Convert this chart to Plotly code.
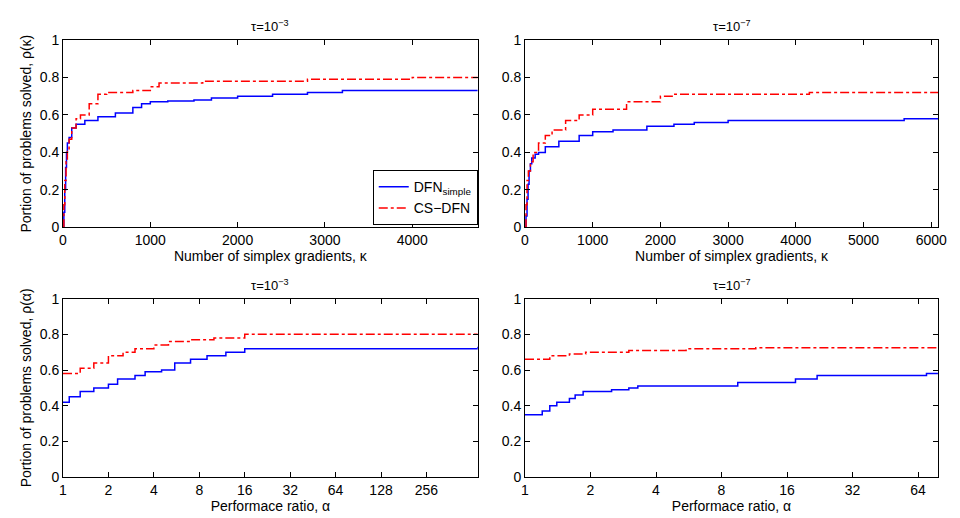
import plotly.graph_objects as go
from plotly.subplots import make_subplots

# top-left: tau=1e-3, simplex gradients
tl_dfn_x = [0, 10, 20, 30, 40, 50, 70, 100, 150, 250, 400, 600, 800, 900, 1000, 1200, 1500, 1700, 2000, 2400, 2800, 3200, 4750]
tl_dfn_y = [0, 0.08, 0.2, 0.32, 0.4, 0.45, 0.48, 0.53, 0.55, 0.57, 0.59, 0.61, 0.64, 0.66, 0.67, 0.675, 0.68, 0.69, 0.7, 0.71, 0.72, 0.73, 0.73]
tl_cs_x = [0, 10, 20, 35, 50, 70, 100, 150, 200, 300, 400, 500, 800, 1000, 1100, 1600, 2000, 2800, 4000, 4750]
tl_cs_y = [0, 0.12, 0.25, 0.35, 0.42, 0.47, 0.53, 0.58, 0.6, 0.66, 0.71, 0.72, 0.73, 0.75, 0.77, 0.78, 0.78, 0.79, 0.8, 0.8]

# top-right: tau=1e-7, simplex gradients
tr_dfn_x = [0, 15, 30, 45, 60, 80, 100, 150, 200, 300, 500, 800, 1000, 1300, 1800, 2200, 2500, 3000, 5500, 5600, 6100]
tr_dfn_y = [0, 0.06, 0.15, 0.23, 0.3, 0.34, 0.37, 0.39, 0.4, 0.43, 0.46, 0.49, 0.51, 0.52, 0.54, 0.55, 0.56, 0.57, 0.57, 0.58, 0.58]
tr_cs_x = [0, 15, 30, 50, 80, 120, 200, 300, 400, 600, 800, 1000, 1500, 2000, 2200, 4200, 6100]
tr_cs_y = [0, 0.12, 0.25, 0.3, 0.35, 0.4, 0.45, 0.49, 0.52, 0.57, 0.6, 0.63, 0.67, 0.7, 0.71, 0.72, 0.72]

# bottom-left: tau=1e-3, performance ratio
bl_dfn_x = [1, 1.1, 1.3, 1.6, 2.0, 2.3, 3, 3.5, 4.5, 5.5, 7, 9, 12, 16, 250, 560]
bl_dfn_y = [0.42, 0.45, 0.48, 0.5, 0.52, 0.55, 0.57, 0.59, 0.6, 0.64, 0.66, 0.68, 0.7, 0.72, 0.72, 0.73]
bl_cs_x = [1, 1.3, 1.6, 2, 2.5, 3, 4, 5, 7, 10, 16, 560]
bl_cs_y = [0.58, 0.61, 0.64, 0.68, 0.7, 0.72, 0.74, 0.76, 0.77, 0.78, 0.8, 0.8]

# bottom-right: tau=1e-7, performance ratio
br_dfn_x = [1, 1.2, 1.3, 1.4, 1.6, 1.7, 1.85, 2.5, 3.0, 3.3, 9.5, 17.5, 22, 70, 79]
br_dfn_y = [0.35, 0.37, 0.4, 0.42, 0.44, 0.46, 0.48, 0.49, 0.5, 0.51, 0.53, 0.55, 0.57, 0.58, 0.58]
br_cs_x = [1, 1.3, 1.6, 1.9, 3, 5.5, 11.5, 79]
br_cs_y = [0.66, 0.68, 0.69, 0.7, 0.71, 0.72, 0.725, 0.725]

log_ticks = [1, 2, 4, 8, 16, 32, 64, 128, 256]

fig = make_subplots(rows=2, cols=2)
panels = [
    (1, 1, tl_dfn_x, tl_dfn_y, tl_cs_x, tl_cs_y, True),
    (1, 2, tr_dfn_x, tr_dfn_y, tr_cs_x, tr_cs_y, False),
    (2, 1, bl_dfn_x, bl_dfn_y, bl_cs_x, bl_cs_y, False),
    (2, 2, br_dfn_x, br_dfn_y, br_cs_x, br_cs_y, False),
]
for r, c, dx, dy, cx, cy, show in panels:
    fig.add_trace(go.Scatter(x=dx, y=dy, mode="lines", line=dict(color="blue", width=1.5, shape="hv"),
                             name="DFN<sub>simple</sub>", showlegend=show), row=r, col=c)
    fig.add_trace(go.Scatter(x=cx, y=cy, mode="lines", line=dict(color="red", width=1.5, shape="hv", dash="dashdot"),
                             name="CS−DFN", showlegend=show), row=r, col=c)

axis_style = dict(showline=True, linecolor="black", mirror="ticks", ticks="inside", ticklen=5,
                  tickcolor="black", showgrid=False, zeroline=False,
                  tickfont=dict(size=14, color="black"), title_font=dict(size=14, color="black"))

fig.update_layout(
    width=960, height=518, margin=dict(l=55, r=30, t=32, b=40),
    plot_bgcolor="white", paper_bgcolor="white",
    font=dict(family="Liberation Sans, Arial", color="black", size=13),
    xaxis=dict(domain=[0, 0.474], range=[0, 4750], tickvals=[0, 1000, 2000, 3000, 4000],
               title=dict(text="Number of simplex gradients, κ", standoff=0), **axis_style),
    xaxis2=dict(domain=[0.528, 1], range=[0, 6100], tickvals=[0, 1000, 2000, 3000, 4000, 5000, 6000],
                title=dict(text="Number of simplex gradients, κ", standoff=0), **axis_style),
    xaxis3=dict(domain=[0, 0.474], type="log", range=[0, 2.748], tickvals=log_ticks, ticktext=[str(t) for t in log_ticks],
                title=dict(text="Performace ratio, α", standoff=0), **axis_style),
    xaxis4=dict(domain=[0.528, 1], type="log", range=[0, 1.898], tickvals=log_ticks[:7], ticktext=[str(t) for t in log_ticks[:7]],
                title=dict(text="Performace ratio, α", standoff=0), **axis_style),
    yaxis=dict(domain=[0.58, 1], range=[0, 1], tickvals=[0, 0.2, 0.4, 0.6, 0.8, 1],
               title=dict(text="Portion of problems solved, ρ(κ)", standoff=4), **axis_style),
    yaxis2=dict(domain=[0.58, 1], range=[0, 1], tickvals=[0, 0.2, 0.4, 0.6, 0.8, 1], **axis_style),
    yaxis3=dict(domain=[0.02, 0.42], range=[0, 1], tickvals=[0, 0.2, 0.4, 0.6, 0.8, 1],
                title=dict(text="Portion of problems solved, ρ(α)", standoff=4), **axis_style),
    yaxis4=dict(domain=[0.02, 0.42], range=[0, 1], tickvals=[0, 0.2, 0.4, 0.6, 0.8, 1], **axis_style),
    legend=dict(x=0.474, y=0.585, xanchor="right", yanchor="bottom", bgcolor="white",
                bordercolor="black", borderwidth=1, font=dict(size=14)),
)

titles = [("τ=10<sup>−3</sup>", 0.237, 1.0), ("τ=10<sup>−7</sup>", 0.764, 1.0),
          ("τ=10<sup>−3</sup>", 0.237, 0.42), ("τ=10<sup>−7</sup>", 0.764, 0.42)]
for text, x, y in titles:
    fig.add_annotation(text=text, x=x, y=y, xref="paper", yref="paper", xanchor="center", yanchor="bottom",
                       yshift=4, showarrow=False, font=dict(size=13))

fig.write_html("out.html")
